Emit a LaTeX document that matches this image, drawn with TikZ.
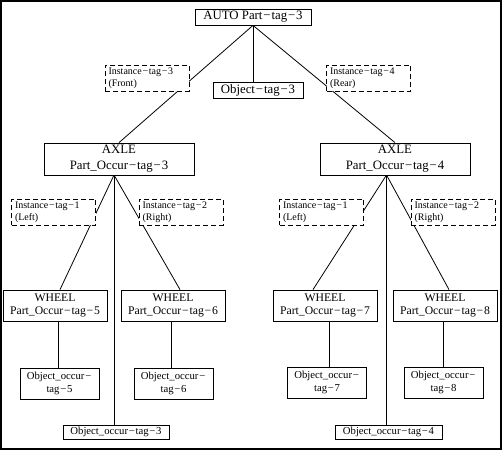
\documentclass[tikz,border=0pt]{standalone}
\usepackage{fontspec}
\setmainfont{Liberation Serif}
\pgfdeclarelayer{bg}
\pgfsetlayers{bg,main}
\newcommand{\mn}{\kern0.07em−\kern0.07em}
\tikzset{
  box/.style={draw, line width=0.8pt, fill=white, inner sep=0pt, align=center},
  big/.style={box, font=\fontsize{12.8}{16}\selectfont},
  whl/.style={box, font=\fontsize{11.7}{13.5}\selectfont, minimum width=104pt, minimum height=31pt},
  occ/.style={box, font=\fontsize{10.7}{12.5}\selectfont, minimum width=79pt, minimum height=31pt},
  occw/.style={box, font=\fontsize{10.7}{12.5}\selectfont, minimum height=14pt},
  inst/.style={draw, dash pattern=on 5pt off 3pt, line width=0.8pt, fill=white,
    font=\fontsize{10}{12}\selectfont, text width=77pt, align=left,
    minimum width=84pt, minimum height=26pt, inner xsep=3.5pt, inner ysep=0pt},
  conn/.style={line width=0.8pt}
}
\begin{document}
\begin{tikzpicture}[x=1pt,y=-1pt]
\useasboundingbox (0,0) rectangle (502,450);
\draw[line width=1.4pt] (1,1) rectangle (501,449);

\node[big, minimum width=116pt, minimum height=16pt] (auto) at (253,17) {AUTO Part\mn tag\mn 3};
\node[inst] (inst3) at (147,78) {Instance\mn tag\mn 3\\(Front)};
\node[big, minimum width=90pt, minimum height=16pt] (obj3) at (258,90) {Object\mn tag\mn 3};
\node[inst] (inst4) at (368.5,78) {Instance\mn tag\mn 4\\(Rear)};

\node[big, minimum width=150pt, minimum height=32pt] (axleL) at (119,159) {AXLE\\Part\_Occur\mn tag\mn 3};
\node[big, minimum width=150pt, minimum height=32pt] (axleR) at (395,159) {AXLE\\Part\_Occur\mn tag\mn 4};

\node[inst] (iL1) at (53.5,212) {Instance\mn tag\mn 1\\(Left)};
\node[inst] (iL2) at (181,212) {Instance\mn tag\mn 2\\(Right)};
\node[inst] (iR1) at (321.5,212) {Instance\mn tag\mn 1\\(Left)};
\node[inst] (iR2) at (453,212) {Instance\mn tag\mn 2\\(Right)};

\node[whl] (w5) at (55,305.5) {WHEEL\\Part\_Occur\mn tag\mn 5};
\node[whl] (w6) at (173,305.5) {WHEEL\\Part\_Occur\mn tag\mn 6};
\node[whl] (w7) at (325,305.5) {WHEEL\\Part\_Occur\mn tag\mn 7};
\node[whl] (w8) at (445,305.5) {WHEEL\\Part\_Occur\mn tag\mn 8};

\node[occ] (o5) at (59.5,383.5) {Object\_occur\mn\\tag\mn 5};
\node[occ] (o6) at (173.5,383.5) {Object\_occur\mn\\tag\mn 6};
\node[occ] (o7) at (327,382.5) {Object\_occur\mn\\tag\mn 7};
\node[occ] (o8) at (443.5,382.5) {Object\_occur\mn\\tag\mn 8};

\node[occw, minimum width=106pt] (oc3) at (116,432) {Object\_occur\mn tag\mn 3};
\node[occw, minimum width=107pt] (oc4) at (388.5,432) {Object\_occur\mn tag\mn 4};

\coordinate (jL) at (114,175);
\coordinate (jR) at (386.5,175);

\begin{pgfonlayer}{bg}
\draw[conn] (auto.south) -- (axleL.north);
\draw[conn] (auto.south) -- (axleR.north);
\draw[conn] (auto.south) -- (auto.south |- obj3.north);
\draw[conn] (jL) -- ([xshift=5pt]w5.north);
\draw[conn] (jL) -- ([xshift=7pt]w6.north);
\draw[conn] (jL) -- (jL |- oc3.north);
\draw[conn] (jR) -- ([xshift=-12pt]w7.north);
\draw[conn] (jR) -- ([xshift=4pt]w8.north);
\draw[conn] (jR) -- (jR |- oc4.north);
\draw[conn] ([xshift=3pt]w5.south) -- ([xshift=3pt]w5.south |- o5.north);
\draw[conn] ([xshift=-2pt]w6.south) -- ([xshift=-2pt]w6.south |- o6.north);
\draw[conn] ([xshift=4pt]w7.south) -- ([xshift=4pt]w7.south |- o7.north);
\draw[conn] ([xshift=-2pt]w8.south) -- ([xshift=-2pt]w8.south |- o8.north);
\end{pgfonlayer}
\end{tikzpicture}
\end{document}
